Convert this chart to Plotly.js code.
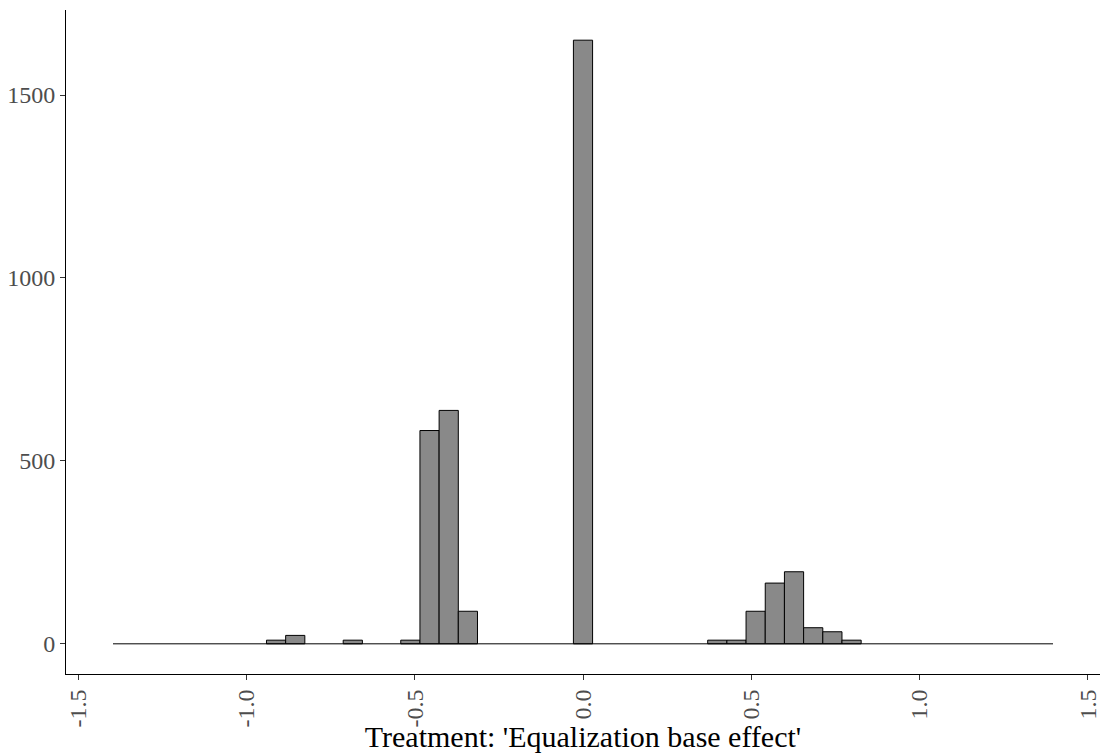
<!DOCTYPE html>
<html>
<head>
<meta charset="utf-8">
<script src="https://cdn.plot.ly/plotly-3.0.1.min.js"></script>
<style>html,body{margin:0;padding:0;background:#fff;}#chart{width:1102px;height:753px;}</style>
</head>
<body>
<div id="chart"></div>
<script>
// Histogram bins (centres) that hold observations, and their counts
const binCenters = [-0.912, -0.855, -0.684, -0.513, -0.456, -0.399, -0.342, 0.0,
                    0.399, 0.456, 0.513, 0.570, 0.627, 0.684, 0.741, 0.798];
const counts     = [10, 23, 10, 10, 583, 638, 89, 1650,
                    10, 10, 89, 166, 197, 44, 33, 10];
const binWidth = 0.057;
// full extent of the histogram (empty bins drawn as a baseline)
const histRange = [-1.3965, 1.3965];
const xTickVals = [-1.5, -1.0, -0.5, 0.0, 0.5, 1.0, 1.5];
const xTickText = ["-1.5", "-1.0", "-0.5", "0.0", "0.5", "1.0", "1.5"];
const yTickVals = [0, 500, 1000, 1500];
const yTickText = ["0", "500", "1000", "1500"];
const xTitle = "Treatment: 'Equalization base effect'";

const maxCount = Math.max(...counts);
const span = histRange[1] - histRange[0];
const xRange = [histRange[0] - 0.05 * span, histRange[1] + 0.05 * span];
const yRange = [-0.05 * maxCount, maxCount * 1.05];

const baseline = {
  type: 'scatter', mode: 'lines',
  x: histRange, y: [0, 0],
  line: {color: '#000000', width: 1},
  hoverinfo: 'skip', showlegend: false
};
const bars = {
  type: 'bar',
  x: binCenters, y: counts,
  width: binWidth,
  marker: {color: '#898989', line: {color: '#000000', width: 1}},
  showlegend: false
};

const layout = {
  width: 1102, height: 753,
  margin: {l: 66, r: 2, t: 10, b: 79},
  paper_bgcolor: '#ffffff', plot_bgcolor: '#ffffff',
  font: {family: '"Liberation Serif", "Times New Roman", serif', color: '#4d4d4d'},
  showlegend: false,
  xaxis: {
    range: xRange, tickmode: 'array', tickvals: xTickVals, ticktext: xTickText,
    tickangle: -90, tickfont: {size: 24, color: '#4d4d4d'},
    showgrid: false, zeroline: false, showline: true, linecolor: '#000000', linewidth: 1,
    ticks: 'outside', ticklen: 5, tickcolor: '#333333', tickwidth: 1,
    title: {text: xTitle, font: {size: 30, color: '#000000'}, standoff: 4}
  },
  yaxis: {
    range: yRange, tickmode: 'array', tickvals: yTickVals, ticktext: yTickText,
    tickfont: {size: 24, color: '#4d4d4d'},
    showgrid: false, zeroline: false, showline: true, linecolor: '#000000', linewidth: 1,
    ticks: 'outside', ticklen: 5, tickcolor: '#333333', tickwidth: 1
  }
};

Plotly.newPlot('chart', [baseline, bars], layout, {displayModeBar: false, staticPlot: true});
</script>
</body>
</html>
